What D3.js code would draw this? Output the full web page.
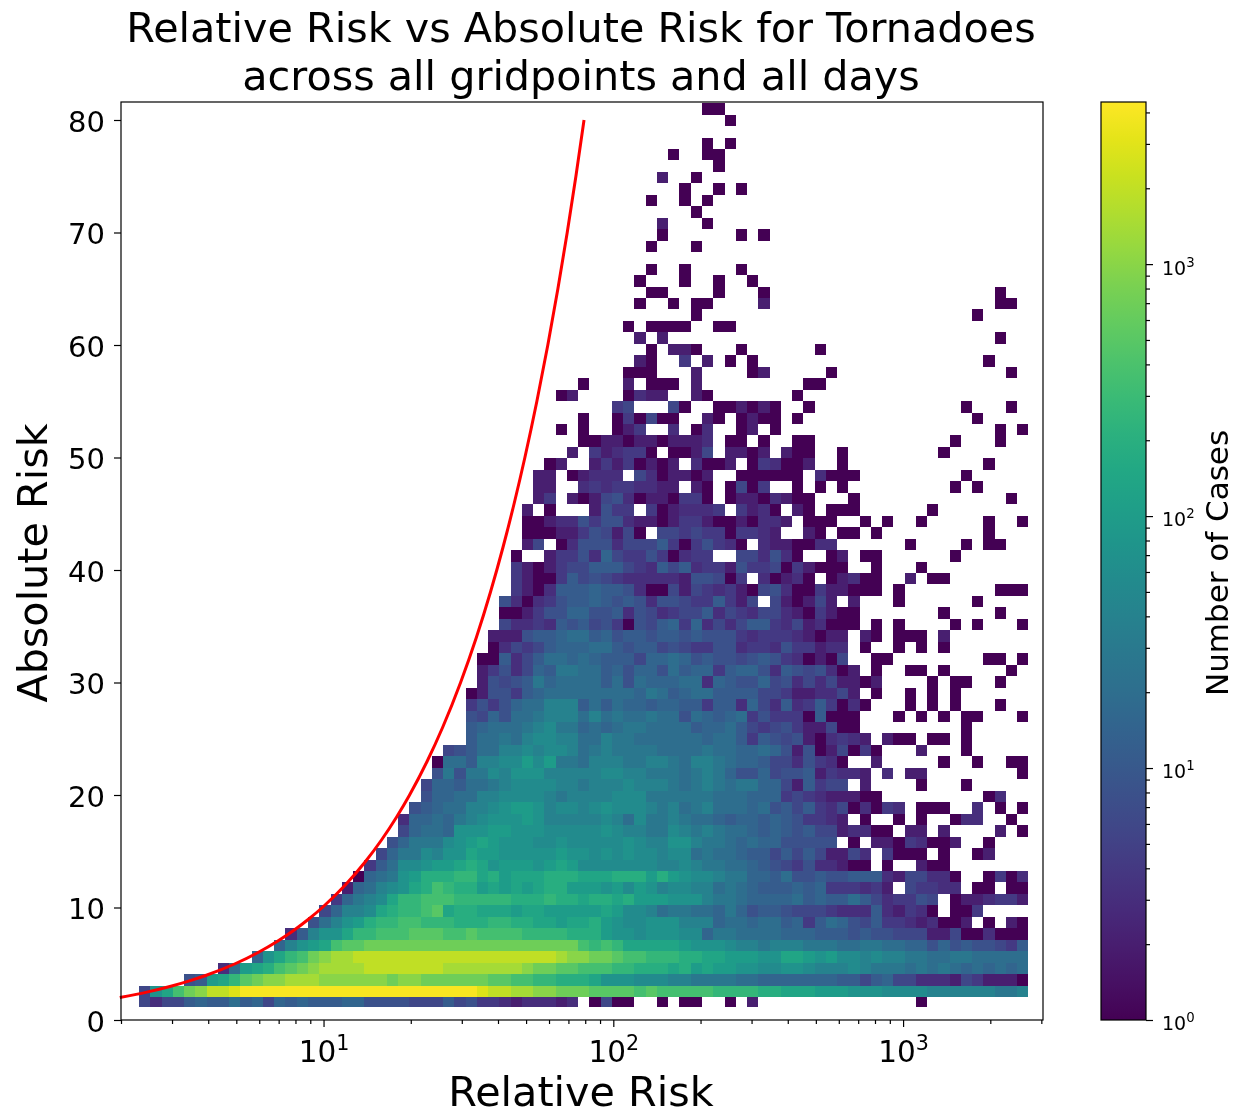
<!DOCTYPE html>
<html>
<head>
<meta charset="utf-8">
<script src="https://cdn.jsdelivr.net/npm/d3@7"></script>
<style>
  html, body { margin: 0; padding: 0; background: #fff; }
  svg { display: block; filter: blur(0.4px); }
  text { font-family: "DejaVu Sans", sans-serif; fill: #000; }
</style>
</head>
<body>
<div id="chart"></div>
<script>
// Number of cases behind each letter used in the rows below (a missing column = no cases)
var caseLetters = "abcdefghijklmnopqrstuvwxy";
var caseCounts = [1, 2, 3, 4, 6, 8, 11, 15, 20, 28, 40, 55, 75, 100, 140, 190, 260, 360, 500, 700, 1000, 1400, 2000, 2800, 4000];

// Histogram rows, top row first. Each run is "firstColumn:letters"
var histogramRows = [
  "50:aa",
  "52:a",
  "",
  "50:a 52:a",
  "47:a 50:aa",
  "51:a",
  "46:b 49:a",
  "48:a 51:a 53:a",
  "45:a 48:a 50:a",
  "49:a",
  "46:b 50:a",
  "46:a 53:a 55:a",
  "45:a 49:a",
  "",
  "45:a 48:a 53:a",
  "44:a 48:a 51:a 54:a",
  "45:aa 51:a 55:a 76:a",
  "44:a 47:a 49:aa 55:b 76:aa",
  "49:a 74:a",
  "43:a 45:aaaa 51:aa",
  "44:b 46:b 76:a",
  "45:a 47:bb 49:a 53:a 60:a",
  "44:ba 48:d 50:b 52:a 54:a 75:a",
  "43:aaa 49:b 54:a 55:b 61:a 77:a",
  "39:a 43:b 45:aaa 49:b 59:aa",
  "37:ab 43:acbb 49:b 50:a 58:a",
  "42:de 47:ea 51:aa 53:b 54:a 55:b 56:a 59:a 73:a 77:a",
  "39:a 42:a 43:d 44:a 45:e 46:aa 50:b 51:a 53:a 54:b 55:aa 58:a 74:a",
  "37:a 39:a 42:a 43:b 44:d 47:c 49:a 50:c 53:a 54:b 56:a 76:a 78:a",
  "39:aa 41:bb 43:a 44:bb 46:a 47:bbb 50:c 52:aa 55:a 58:aa 72:a 76:a",
  "38:b 40:d 41:b 42:c 43:dd 45:a 47:aa 49:b 50:e 52:bb 54:a 55:b 57:b 58:aa 62:a 71:a",
  "36:ab 40:b 41:d 42:b 43:d 44:a 45:b 46:a 47:b 49:c 50:aa 52:b 54:a 55:d 56:c 57:aa 59:b 62:a 75:a",
  "35:bb 38:a 39:b 40:ccc 44:e 45:c 46:a 47:bb 49:a 50:b 53:aaaaaa 60:c 61:aaa 73:a",
  "35:bb 39:c 40:d 41:c 42:dd 44:ccbb 49:b 50:a 52:a 53:e 54:a 55:d 58:a 60:a 62:a 72:a 74:a",
  "35:bd 38:ba 40:b 41:ef 43:c 44:a 45:bb 47:a 48:dd 50:a 52:a 53:bb 55:a 56:cb 58:aa 63:a 77:a",
  "34:b 36:a 40:b 41:f 42:d 43:d 45:d 46:a 47:b 48:c 49:c 50:c 51:d 53:d 54:b 55:c 56:a 58:b 59:a 61:aaa 70:a",
  "34:aa 36:b 37:cc 39:f 40:d 41:ff 43:c 44:bb 46:a 47:b 48:dd 50:b 51:aa 53:b 54:a 55:c 56:cb 59:aaa 64:a 66:a 69:a 75:a 78:a",
  "34:aaa 37:bb 39:d 40:f 41:e 42:b 43:e 44:a 46:ee 48:d 49:e 50:dd 52:a 53:d 54:d 55:cb 59:b 60:a 62:aa 65:a 75:a",
  "34:b 35:e 37:a 38:c 39:fff 42:c 43:eee 46:g 47:d 48:a 49:d 50:f 51:d 52:c 53:a 55:c 56:bb 58:aa 60:cc 68:a 73:a 75:aa",
  "33:a 36:b 37:dd 39:f 40:c 41:h 42:e 43:dd 45:f 46:d 47:a 48:c 49:dd 53:ee 55:c 56:f 57:c 58:a 61:ab 64:aa 72:a",
  "33:dba 36:b 37:d 38:ee 40:ggg 43:e 44:d 45:c 46:g 47:e 48:g 49:c 50:dd 52:b 53:f 54:dd 56:e 57:a 58:d 59:b 60:aaa 65:a 69:a",
  "33:dbaa 37:d 38:g 39:e 40:f 41:e 42:d 43:ccccc 48:b 49:f 50:f 51:e 52:a 53:d 55:c 56:a 57:b 58:c 59:a 61:a 62:b 63:c 64:aa 68:b 70:aa",
  "33:dba 36:c 37:ggg 40:h 41:gg 43:f 44:c 45:aa 47:e 48:b 49:e 50:d 51:c 52:d 53:b 54:a 55:e 56:f 57:c 58:aa 60:d 61:bb 63:aaa 67:a 76:aaa",
  "32:f 33:c 34:a 35:c 36:d 37:f 38:gg 40:h 41:g 42:f 43:g 44:f 45:c 46:f 47:f 48:e 49:d 50:d 51:g 52:d 53:b 54:e 56:e 57:b 58:a 59:b 60:e 61:b 63:b 67:a 74:a",
  "32:aa 34:b 35:d 36:ff 38:hh 40:ff 42:g 43:c 44:f 45:e 46:c 47:d 48:ee 50:g 51:c 52:e 53:d 54:c 55:ee 57:c 58:b 59:a 60:d 61:b 62:aa 71:a 76:a",
  "32:e 33:cc 35:d 36:c 37:g 38:f 39:g 40:e 41:f 42:d 43:a 44:f 45:e 46:g 47:h 48:d 49:h 50:c 51:e 52:c 53:e 54:gg 56:d 57:c 58:e 59:b 60:c 61:aaa 65:a 67:a 72:a 74:a 78:a",
  "31:bbb 34:f 35:gg 37:h 38:ii 40:gh 42:f 43:gg 45:f 46:gg 48:f 49:g 50:fff 53:d 54:c 55:ddd 58:c 59:b 60:a 61:bb 64:ba 67:aaa 71:b",
  "31:a 32:c 33:e 34:d 35:e 36:g 37:hhh 40:ii 42:g 43:f 44:gg 46:e 47:f 48:e 49:d 50:d 51:ff 53:c 54:dd 56:c 57:f 58:dd 60:b 61:cc 64:a 67:a 69:a 71:a",
  "30:aa 32:g 33:c 34:e 35:g 36:ii 38:h 39:i 40:h 41:ggg 44:e 45:hh 47:i 48:h 49:f 50:g 51:ff 53:e 54:f 55:g 56:f 57:d 58:c 59:a 60:b 61:a 62:e 65:aa 75:aa 78:a",
  "30:b 31:d 32:f 33:c 34:e 35:h 36:g 37:jj 39:ii 41:g 42:h 43:f 44:hh 46:f 47:i 48:g 49:hh 51:d 52:g 53:hh 55:f 56:c 57:g 58:f 59:e 60:f 61:c 62:a 63:b 65:a 68:aa 71:a 77:a",
  "30:b 31:f 32:e 33:f 34:g 35:j 36:h 37:iiii 41:g 42:i 43:f 44:i 45:hhh 48:ii 50:c 51:h 52:g 53:ff 55:h 56:e 57:f 58:c 59:e 60:c 61:e 62:bb 64:ab 70:a 72:aa 76:a",
  "29:ab 31:ff 33:d 34:g 35:h 36:iiiiiiii 44:h 45:j 46:i 47:g 48:h 49:ii 51:gggg 55:ee 57:d 58:bb 60:cc 62:e 63:b 65:a 68:a 70:a 72:a",
  "29:d 30:f 31:d 32:f 33:h 34:ii 36:kkk 39:g 40:i 41:g 42:i 43:hh 45:g 46:hh 48:gg 50:d 51:gg 53:c 54:h 55:e 56:c 57:g 58:c 59:d 60:g 61:d 62:a 63:c 64:a 68:a 70:a 72:a 76:a",
  "29:f 30:e 31:h 32:f 33:ii 35:j 36:kkk 39:i 40:k 41:i 42:j 43:ii 45:j 46:ii 48:f 49:i 50:h 51:g 52:h 53:i 54:d 55:f 56:ddd 59:a 60:g 61:aaa 67:a 69:a 71:a 73:aa 78:a",
  "29:g 30:h 31:ii 33:i 34:j 35:k 36:l 37:jj 39:h 40:i 41:h 42:i 43:jj 45:iiii 49:g 50:hh 52:i 53:g 54:e 55:d 56:e 57:f 58:d 59:bb 61:e 62:aa 73:a",
  "29:g 30:ii 32:j 33:i 34:k 35:ll 37:kk 39:ii 41:k 42:jj 44:iiiii 49:i 50:h 51:ii 53:g 54:d 55:g 56:f 57:e 58:f 59:b 60:a 61:c 62:d 63:c 64:b 66:b 67:aa 70:aa 73:a",
  "27:ef 29:g 30:ii 32:kk 34:l 35:k 36:ll 38:k 39:i 40:j 41:k 42:jjjj 46:iiii 50:j 51:ii 53:hh 55:i 56:h 57:f 58:b 59:f 60:a 61:b 62:e 63:a 64:d 65:a 69:b 73:a",
  "26:a 27:ii 29:g 30:kk 32:ll 34:n 35:l 36:n 37:jj 39:i 40:kkk 43:jj 45:kk 47:j 48:i 49:kk 51:j 52:i 53:hh 55:g 56:ee 58:c 59:f 60:d 61:c 62:a 65:b 71:a 74:a 77:aa",
  "26:f 27:j 28:f 29:jj 31:l 32:k 33:mmm 36:kkkkk 41:ll 43:kk 45:jjj 48:i 49:j 50:k 51:j 52:h 53:ff 55:h 56:e 57:ff 59:g 60:b 61:d 62:cc 64:b 66:c 68:bb 78:a",
  "25:e 26:hh 28:g 29:ii 31:j 32:k 33:llll 37:kk 39:j 40:kkk 43:l 44:kkk 47:j 48:i 49:j 50:k 51:j 52:i 53:jj 55:hh 57:e 58:b 59:g 60:d 61:ee 64:b 69:a 73:a",
  "25:f 26:hh 28:ii 30:kk 32:llll 36:k 37:j 38:k 39:kkk 42:lll 45:jjjjjj 51:ii 53:i 54:hhh 57:d 58:e 59:d 60:c 61:bbb 64:aa 75:a 76:c",
  "24:f 25:g 26:h 27:ii 29:kk 31:l 32:m 33:nn 35:m 36:k 37:ll 39:k 40:l 41:m 42:lll 45:k 46:j 47:k 48:i 49:j 50:k 51:ii 53:i 54:h 55:i 56:f 57:g 58:e 59:g 60:d 61:c 62:e 63:a 64:c 65:a 66:d 67:c 69:aaa 74:c 76:a 78:a",
  "23:c 24:hh 26:i 27:h 28:j 29:k 30:l 31:mmm 34:n 35:m 36:kkkkk 41:l 42:k 43:i 44:l 45:jj 47:k 48:j 49:ii 51:h 52:g 53:hh 55:g 56:h 57:g 58:f 59:dd 61:c 62:b 64:a 67:a 69:a 72:a 73:cc 77:a",
  "23:e 24:h 25:i 26:i 27:h 28:mmm 31:nn 33:mmm 36:lllll 41:m 42:l 43:kk 45:jj 47:l 48:k 49:j 50:k 51:j 52:i 53:i 54:h 55:g 56:h 57:g 58:f 59:g 60:ee 62:b 63:cc 65:aa 68:bb 71:b 76:b 78:a",
  "22:f 23:h 24:jj 26:j 27:l 28:m 29:n 30:o 31:n 32:mmm 35:ll 37:m 38:lllll 43:m 44:l 45:kk 47:mm 49:k 50:jj 52:i 53:h 54:i 55:hh 57:fffff 63:a 65:bb 67:a 68:d 69:c 70:aa 72:b 75:a",
  "21:e 22:h 23:jj 25:l 26:k 27:mm 29:o 30:nn 32:mmmmm 37:n 38:mm 40:l 41:m 42:l 43:m 44:ll 46:k 47:ll 49:i 50:j 51:i 52:i 53:h 54:gg 56:e 57:g 58:e 59:g 60:e 61:bb 63:e 64:c 66:d 67:aaa 71:a 74:a 75:b",
  "20:d 21:g 22:i 23:ll 25:m 26:nn 28:o 29:p 30:o 31:m 32:nnn 35:m 36:n 37:o 38:n 39:lllllll 46:kk 48:l 49:k 50:jj 52:ii 54:h 55:g 56:f 57:e 58:d 59:f 60:cc 62:b 63:aa 66:a 69:b 70:aa",
  "19:a 20:h 21:i 22:j 23:m 24:n 25:pp 27:p 28:qq 30:o 31:p 32:n 33:ooo 36:ppp 39:ooo 42:pp 44:p 45:n 46:p 47:n 48:m 49:ll 51:k 52:jj 54:hh 56:g 57:i 58:ff 60:g 61:ff 63:ggg 66:c 67:b 68:ee 70:cc 72:a 75:a 76:d 77:a 78:c",
  "18:b 19:h 20:i 21:k 22:l 23:m 24:o 25:p 26:r 27:q 28:pp 30:n 31:o 32:n 33:o 34:n 35:o 36:pp 38:nnn 41:m 42:n 43:l 44:n 45:m 46:k 47:ll 49:kk 51:i 52:j 53:i 54:h 55:ggg 58:h 59:g 60:h 61:ddd 64:c 65:d 66:b 68:e 69:dd 71:cc 74:aa 77:aa",
  "17:d 18:h 19:j 20:k 21:l 22:o 23:qq 25:rrr 28:qqqqq 33:ppp 36:q 37:pp 39:o 40:pp 42:o 43:p 44:nnn 47:mmm 50:k 51:j 52:j 53:i 54:hhhh 58:i 59:g 60:h 61:gg 63:i 64:g 65:e 66:c 67:dd 69:f 70:e 72:a 73:bb 75:c 76:dd 78:b",
  "16:e 17:h 18:kk 20:l 21:o 22:p 23:qq 25:r 26:s 27:o 28:pp 30:oo 32:o 33:n 34:oo 36:nnnnn 41:o 42:n 43:ll 45:k 46:i 47:jj 49:ii 51:h 52:j 53:h 54:f 55:gg 57:f 58:eee 61:d 62:ccc 65:g 66:c 67:b 68:d 69:c 70:a 72:aa 74:d",
  "15:f 16:i 17:k 18:m 19:n 20:p 21:qq 23:rr 25:q 26:qq 28:ppp 31:qq 33:pp 35:oo 37:n 38:oo 40:p 41:n 42:m 43:ll 45:mmm 48:kkk 51:h 52:ii 54:h 55:ii 57:g 58:h 59:d 60:g 61:i 62:h 63:f 64:e 65:g 66:dd 68:c 69:b 70:c 71:aa 73:b 75:a 77:ba",
  "13:c 14:g 15:k 16:mm 18:o 19:qq 21:rrr 24:sss 27:rr 29:s 30:rrrr 34:qqqq 38:ppp 41:n 42:mm 44:l 45:mmm 48:ll 50:h 51:jj 53:iiii 57:hhh 60:ggg 63:f 64:g 65:f 66:f 67:eee 70:bb 72:e 73:aa 75:c 76:aaa",
  "12:h 13:k 14:m 15:n 16:o 17:r 18:ss 20:ttttttt 27:tttttttttt 37:t 38:t 39:r 40:q 41:r 42:q 43:oooo 47:o 48:n 49:mmm 52:l 53:kk 55:j 56:kkk 59:jjj 62:ii 64:jj 66:ii 68:hh 70:f 71:h 72:f 73:g 74:ff 76:e 77:d 78:g",
  "10:h 11:m 12:o 13:q 14:r 15:t 16:u 17:vv 19:wwwwwwwww 28:wwwwwwwww 37:v 38:u 39:u 40:tt 42:s 43:rr 45:qqq 48:pp 50:oo 52:nnn 55:mm 57:oo 59:n 60:m 61:n 62:ll 64:k 65:l 66:kk 68:jj 70:ii 72:jj 74:iiiii",
  "7:c 8:i 9:n 10:o 11:p 12:r 13:s 14:t 15:u 16:vvvv 20:wwwwww 26:w 27:vvvvvvv 34:u 35:tt 37:ss 39:rrr 42:qq 44:ppp 47:o 48:p 49:n 50:o 51:nn 53:m 54:m 55:ll 57:mm 59:l 60:kkk 63:l 64:k 65:jjj 68:i 69:j 70:i 71:j 72:i 73:h 74:i 75:h 76:i 77:h 78:i",
  "4:f 5:g 6:n 7:o 8:q 9:s 10:t 11:uu 13:vvv 16:uuuuuu 22:t 23:uu 25:t 26:ttttt 31:ss 33:rr 35:qq 37:ppp 40:o 41:mmm 44:lll 47:kk 49:jjjj 53:i 54:i 55:hhhhhh 61:h 62:gg 64:e 65:g 66:h 67:ee 69:ccc 72:b 73:e 74:d 75:bbb 78:a",
  "0:e 1:m 2:o 3:r 4:t 5:u 6:ww 8:x 9:yyyyyyyyyy 19:yyyyyyyyyyy 30:x 31:ww 33:vv 35:uu 37:ttt 40:ssss 44:r 45:s 46:rrrrr 51:qqqq 55:pp 57:ooo 60:nnn 63:mmm 66:llll 70:kkkkkk 76:jj 78:k",
  "0:ece 3:e 4:g 5:h 6:gg 8:i 9:g 10:h 11:e 12:h 13:g 14:h 15:ggg 18:hh 20:ffff 24:eee 27:g 28:e 29:f 30:dd 32:c 33:b 34:ccc 37:b 38:c 40:a 41:e 42:aa 46:a 48:aa 52:a 54:b 69:a"
];

// Red reference line
var lineRelativeRisk = [2, 2.5, 3, 3.5, 4, 5, 6, 7, 8, 9, 10, 12, 14, 16, 18, 20, 23, 26, 30, 34, 38, 42, 46, 50, 55, 60, 65, 70, 75, 80];
var lineAbsoluteRisk = [2, 2.5, 3, 3.5, 4, 5, 6, 7, 8, 9, 10, 12, 14, 16, 18, 20, 23, 26, 30, 34, 38, 42, 46, 50, 55, 60, 65, 70, 75, 80];

// Ticks
var xMajorTicks = [10, 100, 1000];
var xMinorTicks = [2, 3, 4, 5, 6, 7, 8, 9, 20, 30, 40, 50, 60, 70, 80, 90, 200, 300, 400, 500, 600, 700, 800, 900, 2000, 3000];
var yTicks = [0, 10, 20, 30, 40, 50, 60, 70, 80];
var cbarMajorTicks = [1, 10, 100, 1000];
var cbarMinorTicks = [2, 3, 4, 5, 6, 7, 8, 9, 20, 30, 40, 50, 60, 70, 80, 90, 200, 300, 400, 500, 600, 700, 800, 900, 2000, 3000, 4000];

// Bin layout of the histogram (data units)
var relBinStart = 2.31, relBinDecades = 0.03885;
var absBottom = 1.15, absFirstEdge = 2.04, absBinHeight = 1.0187;

var margin = { top: 102, right: 195, bottom: 96, left: 121 },
    totalWidth = 1238,
    totalHeight = 1116,
    width = totalWidth - margin.left - margin.right,
    height = totalHeight - margin.top - margin.bottom;

var x = d3.scaleLog().domain([2, 3040]).range([0, width]);
var y = d3.scaleLinear().domain([0, 81.6]).range([height, 0]);
var color = d3.scaleSequentialLog(d3.interpolateViridis).domain([1, 4400]);

function relEdge(i) {
    return Math.pow(10, Math.log10(relBinStart) + i * relBinDecades);
}

function absEdge(r) {
    return r === 0 ? absBottom : absFirstEdge + (r - 1) * absBinHeight;
}

// expand the runs into one object per filled cell
var cells = [];
histogramRows.forEach(function (row, t) {
    if (!row) return;
    row.split(" ").forEach(function (run) {
        var parts = run.split(":");
        parts[1].split("").forEach(function (letter, k) {
            cells.push({
                col: +parts[0] + k,
                row: histogramRows.length - 1 - t,
                count: caseCounts[caseLetters.indexOf(letter)]
            });
        });
    });
});

var svg = d3.select("#chart").append("svg")
    .attr("width", totalWidth)
    .attr("height", totalHeight);

var g = svg.append("g")
    .attr("transform", "translate(" + margin.left + "," + margin.top + ")");

g.append("g").attr("class", "cells")
    .selectAll("rect")
    .data(cells)
    .join("rect")
    .attr("x", d => x(relEdge(d.col)))
    .attr("y", d => y(absEdge(d.row + 1)))
    .attr("width", d => x(relEdge(d.col + 1)) - x(relEdge(d.col)))
    .attr("height", d => y(absEdge(d.row)) - y(absEdge(d.row + 1)))
    .attr("shape-rendering", "crispEdges")
    .style("fill", d => color(d.count));

var riskLine = d3.line()
    .x(d => x(d))
    .y((d, i) => y(lineAbsoluteRisk[i]))
    .curve(d3.curveMonotoneX);

g.append("path")
    .datum(lineRelativeRisk)
    .attr("d", riskLine)
    .attr("transform", "translate(-1.2,0)")
    .style("fill", "none")
    .style("stroke", "#ff0000")
    .style("stroke-width", 3);

g.append("rect")
    .attr("width", width)
    .attr("height", height)
    .style("fill", "none")
    .style("stroke", "#000")
    .style("stroke-width", 1.2);

// write 10^n with a raised exponent
function powerLabel(selection, size) {
    selection.each(function (d) {
        var text = d3.select(this).text(null);
        text.append("tspan").text("10");
        text.append("tspan")
            .attr("dy", -size * 0.42)
            .style("font-size", (size * 0.7) + "px")
            .text(Math.round(Math.log10(d)));
    });
}

function styleAxis(axisG) {
    axisG.select(".domain").remove();
    axisG.selectAll("line").style("stroke", "#000").style("stroke-width", 1.2);
}

var xAxisMinor = g.append("g")
    .attr("transform", "translate(0," + height + ")")
    .call(d3.axisBottom(x).tickValues(xMinorTicks).tickSize(4).tickFormat(""));
styleAxis(xAxisMinor);

var xAxis = g.append("g")
    .attr("transform", "translate(0," + height + ")")
    .call(d3.axisBottom(x).tickValues(xMajorTicks).tickSize(7).tickPadding(14));
styleAxis(xAxis);
xAxis.selectAll("text")
    .style("font-size", "29.5px")
    .call(powerLabel, 29.5);

var yAxis = g.append("g")
    .call(d3.axisLeft(y).tickValues(yTicks).tickSize(7).tickPadding(9));
styleAxis(yAxis);
yAxis.selectAll("text")
    .attr("dy", "0.39em")
    .style("font-size", "29px");

// Colorbar
var cbarLeft = 980, cbarWidth = 45;
var cbarScale = d3.scaleLog().domain([1, 4400]).range([height, 0]);

var defs = svg.append("defs");
var gradient = defs.append("linearGradient")
    .attr("id", "cbarGradient")
    .attr("x1", 0).attr("x2", 0).attr("y1", 1).attr("y2", 0);
gradient.selectAll("stop")
    .data(d3.range(0, 1.0001, 0.04))
    .join("stop")
    .attr("offset", d => d)
    .attr("stop-color", d => d3.interpolateViridis(d));

var cbar = g.append("g").attr("transform", "translate(" + cbarLeft + ",0)");

cbar.append("rect")
    .attr("width", cbarWidth)
    .attr("height", height)
    .style("fill", "url(#cbarGradient)")
    .style("stroke", "#000")
    .style("stroke-width", 1.2);

var cbarMinor = cbar.append("g")
    .attr("transform", "translate(" + cbarWidth + ",0)")
    .call(d3.axisRight(cbarScale).tickValues(cbarMinorTicks).tickSize(4).tickFormat(""));
styleAxis(cbarMinor);

var cbarAxis = cbar.append("g")
    .attr("transform", "translate(" + cbarWidth + ",0)")
    .call(d3.axisRight(cbarScale).tickValues(cbarMajorTicks).tickSize(7).tickPadding(9));
styleAxis(cbarAxis);
cbarAxis.selectAll("text")
    .attr("dy", "0.52em")
    .style("font-size", "19px")
    .call(powerLabel, 19);

// Titles
svg.append("text")
    .attr("x", 581).attr("y", 42)
    .attr("text-anchor", "middle")
    .style("font-size", "41.3px")
    .text("Relative Risk vs Absolute Risk for Tornadoes");
svg.append("text")
    .attr("x", 581).attr("y", 90)
    .attr("text-anchor", "middle")
    .style("font-size", "41.3px")
    .text("across all gridpoints and all days");

svg.append("text")
    .attr("x", 581).attr("y", 1106)
    .attr("text-anchor", "middle")
    .style("font-size", "41.3px")
    .text("Relative Risk");

svg.append("text")
    .attr("transform", "translate(47,563) rotate(-90)")
    .attr("text-anchor", "middle")
    .style("font-size", "41.3px")
    .text("Absolute Risk");

svg.append("text")
    .attr("transform", "translate(1228,563) rotate(-90)")
    .attr("text-anchor", "middle")
    .style("font-size", "31px")
    .text("Number of Cases");
</script>
</body>
</html>
